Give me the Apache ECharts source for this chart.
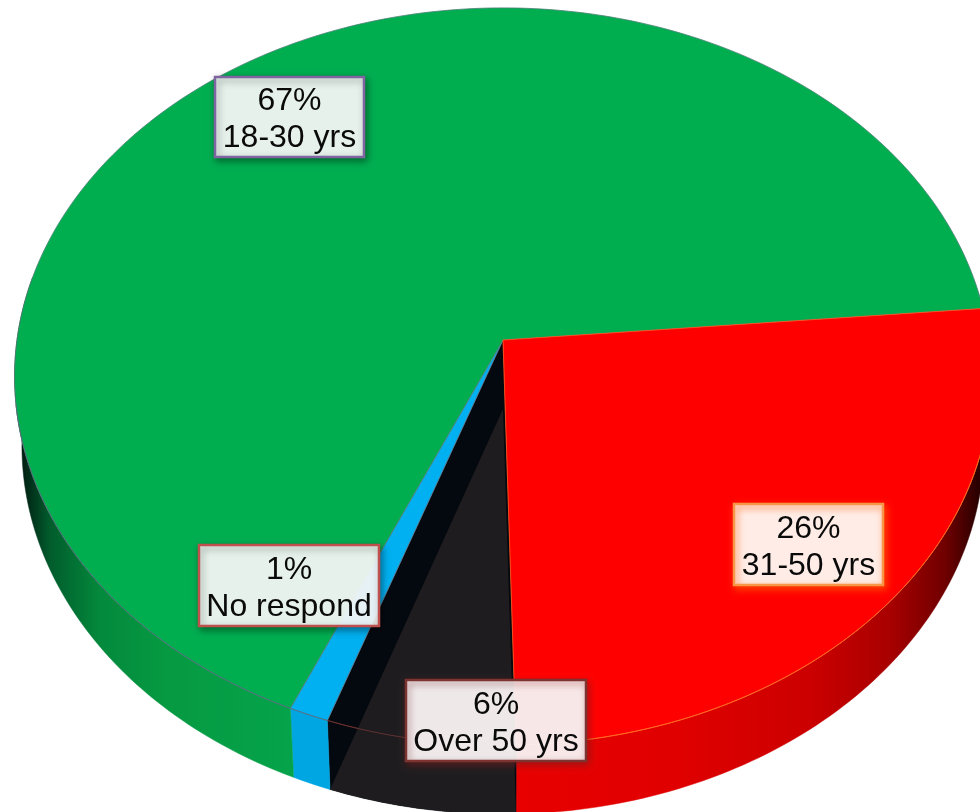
<!DOCTYPE html>
<html><head><meta charset="utf-8">
<style>html,body{margin:0;padding:0;background:#fff}#c{width:980px;height:812px}</style>
<script src="https://cdn.jsdelivr.net/npm/echarts@6/dist/echarts.min.js"></script>
</head><body><div id="c"></div>
<script>
// Data (clockwise from the red slice's starting edge)
const categories = ['31-50 yrs', 'Over 50 yrs', 'No respond', '18-30 yrs'];
const shares = [26, 5.7, 1.2, 67.1];
const shareLabels = ['26%', '6%', '1%', '67%'];

// Projection of the tilted disc (perspective view of a circle)
const view = {cx: 503, cy: 340, a: 486, b: 365, k: 0.099, depth: 69, baseScale: 0.985, startAngle: -5};
function rim(deg) {
  const r = deg * Math.PI / 180, u = Math.cos(r), v = Math.sin(r), d = 1 - view.k * v;
  return [view.cx + view.a * u / d, view.cy + view.b * v / d];
}
function base(p) {
  return [view.cx + (p[0] - view.cx) * view.baseScale, p[1] + view.depth];
}
function arc(a0, a1) {
  const pts = [], n = Math.max(2, Math.ceil(Math.abs(a1 - a0)));
  for (let i = 0; i <= n; i++) pts.push(rim(a0 + (a1 - a0) * i / n));
  return pts;
}
const wallGrad = stops => ({type: 'linear', x: 0, y: 0, x2: 980, y2: 0, global: true,
  colorStops: stops.map(s => ({offset: s[0] / 980, color: s[1]}))});

const looks = [
  {top: '#ff0000', edge: '#ff5a1e', rimLine: '#ff6a20', z: 6,
   wall: wallGrad([[515,'#e80000'],[680,'#e00000'],[810,'#cc0000'],[890,'#a80000'],[945,'#700000'],[978,'#2a0000']]),
   box: [733,503,151,83], border: '#f79646', shade: 'rgba(255,90,0,0.8)'},
  {top: '#04090f', edge: '#6a1a14', rimLine: '#6a3436', z: 2, floor: '#1e1c1e',
   wall: '#04090f',
   box: [405,679,182,83], border: '#7d3330', shade: 'rgba(120,30,30,0.6)'},
  {top: '#00b0f0', edge: '#4f7f9a', rimLine: '#4f6f88', z: 4,
   wall: '#00a6e2',
   box: [198,544,182,83], border: '#c0504d', shade: 'rgba(0,0,0,0.4)'},
  {top: '#00ae50', edge: '#4f8078', rimLine: '#4f7078', z: 5,
   wall: wallGrad([[20,'#021a10'],[32,'#01341c'],[50,'#015c2c'],[100,'#03893c'],[167,'#069a42'],[290,'#05a34a']]),
   box: [214,76,151,82], border: '#8064a2', shade: 'rgba(0,0,0,0.4)'}
];

function renderSlice(params, api) {
  const i = params.dataIndex, look = looks[i];
  let before = 0;
  for (let j = 0; j < i; j++) before += shares[j];
  const a0 = view.startAngle + before * 3.6, a1 = a0 + api.value(0) * 3.6;
  const top = arc(a0, a1);
  const wa0 = Math.max(a0, view.startAngle), wa1 = Math.min(a1, 190);
  const wallTop = arc(wa0, wa1);
  const wallBottom = wallTop.map(base).reverse();
  const centre = [view.cx, view.cy];
  const kids = [
    {type: 'polygon', z2: 1, shape: {points: wallTop.concat(wallBottom)},
     style: {fill: look.wall, stroke: look.wall, lineWidth: 0.5}},
    {type: 'polygon', z2: look.z, shape: {points: [centre].concat(top)},
     style: {fill: look.top, stroke: look.edge, lineWidth: 0.8}}
  ];
  if (look.floor) {
    kids.push({type: 'polygon', z2: 3, shape: {points: [base(centre)].concat(top.map(base))},
      style: {fill: look.floor}});
  }
  const front = arc(Math.max(a0, 15), Math.min(a1, 170));
  kids.push({type: 'polyline', z2: 7, shape: {points: front},
    style: {fill: null, stroke: look.rimLine, lineWidth: 0.9}});
  const b = look.box;
  kids.push({type: 'rect', z2: 10, shape: {x: b[0] + 1, y: b[1] + 1, width: b[2] - 2, height: b[3] - 2},
    style: {fill: 'rgba(255,255,255,0.9)', stroke: look.border, lineWidth: 2.5,
      shadowBlur: 7, shadowOffsetX: 2, shadowOffsetY: 3, shadowColor: look.shade}});
  kids.push({type: 'text', z2: 11, style: {
    text: shareLabels[i] + '\n' + categories[i],
    x: b[0] + b[2] / 2, y: b[1] + b[3] / 2 + 3,
    align: 'center', verticalAlign: 'middle',
    fill: '#0a0a0a', fontFamily: '"Liberation Sans", Arial, sans-serif', fontSize: 32, lineHeight: 37}});
  return {type: 'group', children: kids};
}

const chart = echarts.init(document.getElementById('c'), null, {renderer: 'canvas'});
chart.setOption({
  animation: false,
  backgroundColor: '#ffffff',
  series: [{
    type: 'custom',
    coordinateSystem: 'none',
    renderItem: renderSlice,
    data: categories.map((name, i) => ({name: name, value: [shares[i]]}))
  }]
});
</script></body></html>
